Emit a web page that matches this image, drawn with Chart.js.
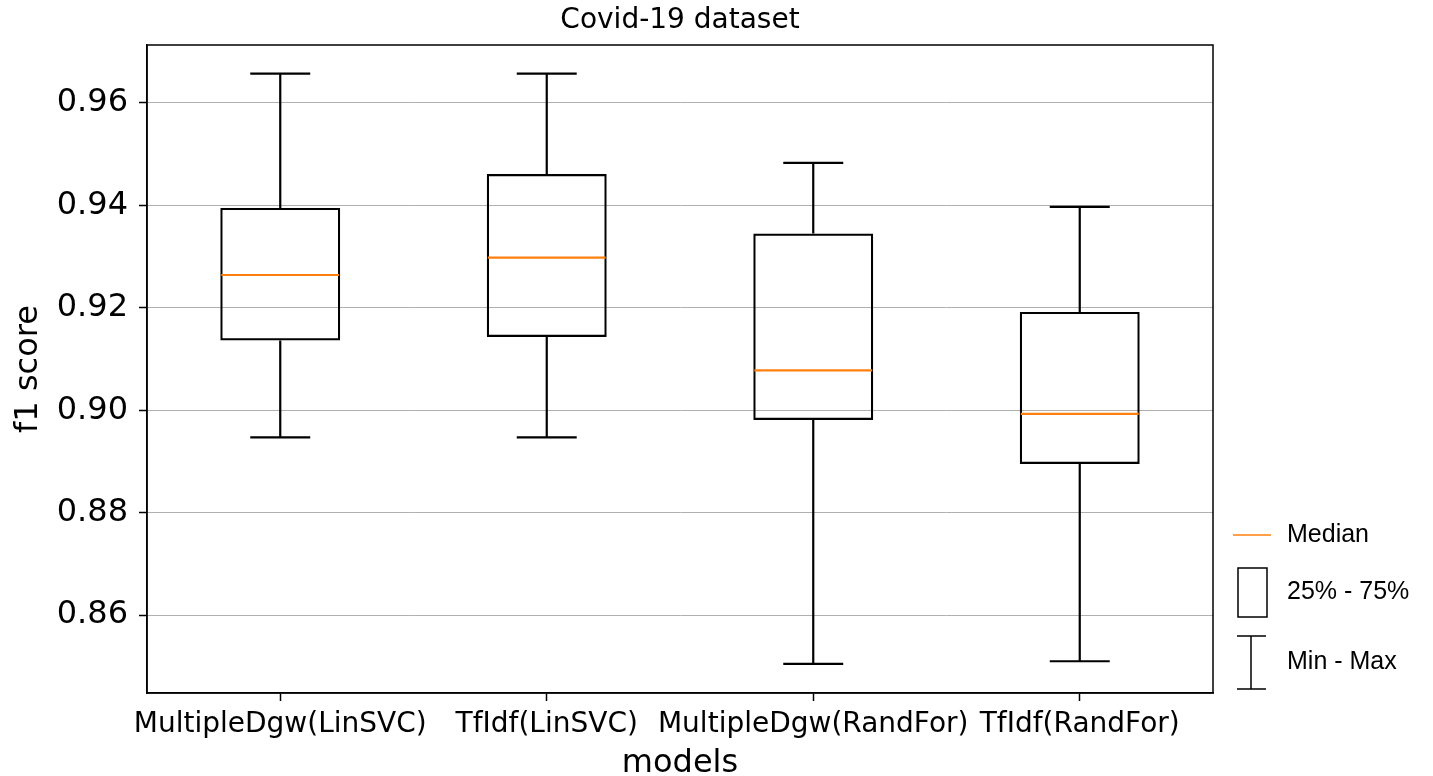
<!DOCTYPE html>
<html>
<head>
<meta charset="utf-8">
<title>Covid-19 dataset</title>
<script src="https://cdn.jsdelivr.net/npm/chart.js@4"></script>
<style>
  body { margin: 0; background: #fff; }
  #wrap { width: 1433px; height: 776px; }
</style>
</head>
<body>
<div id="wrap"><canvas id="viz" width="1433" height="776"></canvas></div>
<script>
// box plot values
const models = ['MultipleDgw(LinSVC)', 'TfIdf(LinSVC)', 'MultipleDgw(RandFor)', 'TfIdf(RandFor)'];
const minVals = [0.8947, 0.8947, 0.8505, 0.8510];
const q1Vals = [0.9136, 0.9143, 0.8981, 0.8895];
const medianVals = [0.9264, 0.9298, 0.9078, 0.8993];
const q3Vals = [0.9395, 0.9461, 0.9345, 0.9192];
const maxVals = [0.9657, 0.9657, 0.9483, 0.9397];
const yTicks = [0.86, 0.88, 0.90, 0.92, 0.94, 0.96];
const chartTitle = 'Covid-19 dataset';

const ORANGE = '#ff7f0e';
const dejavu = '"DejaVu Sans", sans-serif';

// whiskers, medians, frame, title and the little legend on the right
const boxPlugin = {
  id: 'boxExtras',
  afterDatasetsDraw(chart) {
    const ctx = chart.ctx;
    const x = chart.scales.x;
    const y = chart.scales.y;
    const meta = chart.getDatasetMeta(0);
    ctx.save();
    ctx.lineCap = 'butt';
    for (let i = 0; i < models.length; i++) {
      const cx = x.getPixelForValue(i);
      const half = meta.data[i].width / 2;
      const cap = half / 2;
      ctx.strokeStyle = '#000';
      ctx.lineWidth = 2.2;
      ctx.beginPath();
      ctx.moveTo(cx, y.getPixelForValue(q3Vals[i]));
      ctx.lineTo(cx, y.getPixelForValue(maxVals[i]));
      ctx.moveTo(cx, y.getPixelForValue(q1Vals[i]));
      ctx.lineTo(cx, y.getPixelForValue(minVals[i]));
      ctx.moveTo(cx - cap, y.getPixelForValue(maxVals[i]));
      ctx.lineTo(cx + cap, y.getPixelForValue(maxVals[i]));
      ctx.moveTo(cx - cap, y.getPixelForValue(minVals[i]));
      ctx.lineTo(cx + cap, y.getPixelForValue(minVals[i]));
      ctx.stroke();

      ctx.strokeStyle = ORANGE;
      ctx.beginPath();
      const my = y.getPixelForValue(medianVals[i]);
      ctx.moveTo(cx - half + 1, my);
      ctx.lineTo(cx + half - 1, my);
      ctx.stroke();
    }
    ctx.restore();
  },
  afterDraw(chart) {
    const ctx = chart.ctx;
    const a = chart.chartArea;
    ctx.save();
    // frame
    ctx.strokeStyle = '#000';
    ctx.lineWidth = 1.5;
    ctx.strokeRect(a.left, a.top, a.right - a.left, a.bottom - a.top);

    // title centred over the plot area
    ctx.fillStyle = '#000';
    ctx.font = '28px ' + dejavu;
    ctx.textAlign = 'center';
    ctx.textBaseline = 'middle';
    ctx.fillText(chartTitle, (a.left + a.right) / 2, 21);

    // legend
    const lx = a.right;
    const by = a.bottom;
    ctx.lineWidth = 1.5;
    ctx.strokeStyle = ORANGE;
    ctx.beginPath();
    ctx.moveTo(lx + 20, by - 158);
    ctx.lineTo(lx + 58, by - 158);
    ctx.stroke();

    ctx.strokeStyle = '#000';
    ctx.strokeRect(lx + 25, by - 125, 29, 49);

    ctx.beginPath();
    ctx.moveTo(lx + 24, by - 57);
    ctx.lineTo(lx + 53, by - 57);
    ctx.moveTo(lx + 38, by - 57);
    ctx.lineTo(lx + 38, by - 4);
    ctx.moveTo(lx + 24, by - 4);
    ctx.lineTo(lx + 53, by - 4);
    ctx.stroke();

    ctx.font = '25px "Liberation Sans", Arial, sans-serif';
    ctx.textAlign = 'left';
    ctx.fillText('Median', lx + 74, by - 158);
    ctx.fillText('25% - 75%', lx + 74, by - 101);
    ctx.fillText('Min - Max', lx + 74, by - 31);
    ctx.restore();
  }
};

const ctx = document.getElementById('viz');

new Chart(ctx, {
  type: 'bar',
  data: {
    labels: models,
    datasets: [{
      label: '25% - 75%',
      data: models.map((m, i) => [q1Vals[i], q3Vals[i]]),
      backgroundColor: 'rgba(0,0,0,0)',
      borderColor: '#000',
      borderWidth: 2.2,
      borderSkipped: false,
      barPercentage: 0.45,
      categoryPercentage: 1.0
    }]
  },
  options: {
    responsive: false,
    animation: false,
    layout: { padding: { left: 0, right: 220, top: 45, bottom: 0 } },
    plugins: {
      legend: { display: false },
      tooltip: { enabled: false },
      title: { display: false }
    },
    scales: {
      x: {
        afterFit: s => { s.height = 83; },
        grid: { offset: false, drawOnChartArea: false, drawTicks: true, tickLength: 8, tickColor: '#000', tickWidth: 1.5 },
        border: { display: true, color: '#000', width: 1.5 },
        ticks: { color: '#000', font: { family: dejavu, size: 28 }, padding: 7, maxRotation: 0, autoSkip: false },
        title: {
          display: true,
          text: 'models',
          color: '#000',
          font: { family: dejavu, size: 32 },
          padding: { top: 0, bottom: -7 }
        }
      },
      y: {
        min: 0.8448,
        max: 0.9713,
        afterFit: s => { s.width = 147; },
        afterBuildTicks: s => { s.ticks = yTicks.map(v => ({ value: v })); },
        grid: { color: '#b0b0b0', lineWidth: 1, tickLength: 8, tickColor: '#000', tickWidth: 1.5 },
        border: { display: true, color: '#000', width: 1.5 },
        ticks: {
          color: '#000',
          font: { family: dejavu, size: 32 },
          padding: 11,
          callback: v => v.toFixed(2)
        },
        title: {
          display: true,
          text: 'f1 score',
          color: '#000',
          font: { family: dejavu, size: 32 },
          padding: { top: 9, bottom: 0 }
        }
      }
    }
  },
  plugins: [boxPlugin]
});
</script>
</body>
</html>
